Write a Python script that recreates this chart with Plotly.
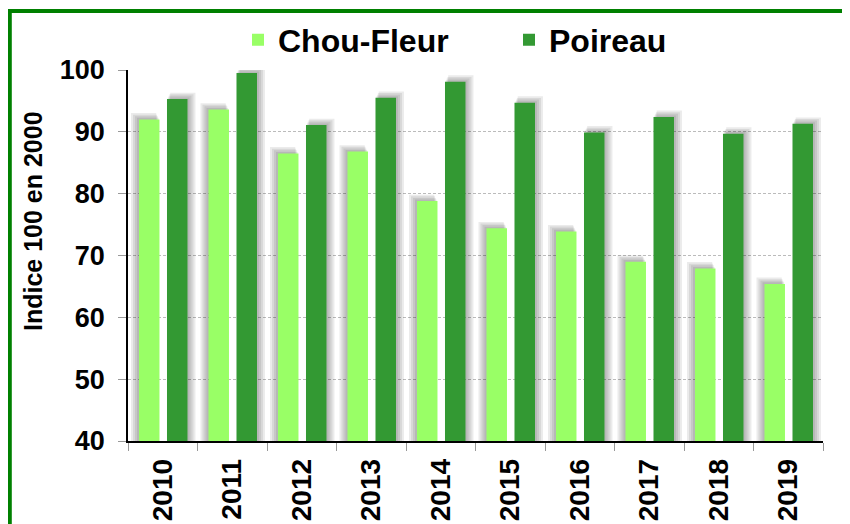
import plotly.graph_objects as go

years = ["2010", "2011", "2012", "2013", "2014", "2015", "2016", "2017", "2018", "2019"]
chou_fleur = [92.0, 93.6, 86.5, 86.8, 78.8, 74.4, 73.9, 69.0, 67.9, 65.4]
poireau = [95.3, 99.5, 91.1, 95.5, 98.1, 94.7, 89.9, 92.4, 89.7, 91.3]
y_ticks = [40, 50, 60, 70, 80, 90, 100]
y_title = "Indice 100 en 2000"

FONT = "Arial, 'Liberation Sans', sans-serif"
C_LIGHT = "#99FF66"
C_DARK = "#339933"
C_FRAME = "#008000"

W, H = 842, 516
ML, MT, PW, PH = 120, 62, 695, 371
PX_X = PW / 10.0   # pixels per category
PX_Y = PH / 60.0   # pixels per y unit
BW = 0.295
OFF_CHOU = -0.342
OFF_POIR = 0.061

fig = go.Figure()

# soft shadows (layered translucent bars)
for k in [8, 6, 4, 2]:
    dx = k / PX_X
    dy = (k * 0.8) / PX_Y
    fig.add_trace(go.Bar(
        x=years, y=[v + dy for v in chou_fleur], offset=OFF_CHOU - dx, width=BW + dx * 0.6,
        marker=dict(color="rgba(0,0,0,0.08)", line=dict(width=0)),
        showlegend=False, hoverinfo="skip"))
    fig.add_trace(go.Bar(
        x=years, y=[v + dy for v in poireau], offset=OFF_POIR + dx * 0.4, width=BW + dx * 0.6,
        marker=dict(color="rgba(0,0,0,0.08)", line=dict(width=0)),
        showlegend=False, hoverinfo="skip"))

fig.add_trace(go.Bar(x=years, y=chou_fleur, name="Chou-Fleur", offset=OFF_CHOU, width=BW,
                     marker=dict(color=C_LIGHT, line=dict(width=0))))
fig.add_trace(go.Bar(x=years, y=poireau, name="Poireau", offset=OFF_POIR, width=BW,
                     marker=dict(color=C_DARK, line=dict(width=0))))

# green frame: only the left and top sides fall inside the view
fx = (1.8 - ML) / PW
fy = (MT + PH - 3) / PH
fig.add_shape(type="line", xref="paper", yref="paper", x0=fx, x1=fx, y0=-0.5, y1=fy + 0.004,
              line=dict(color=C_FRAME, width=4), layer="above")
fig.add_shape(type="line", xref="paper", yref="paper", x0=fx - 0.003, x1=1.5, y0=fy, y1=fy,
              line=dict(color=C_FRAME, width=4), layer="above")

# y-axis title
fig.add_annotation(text=y_title, textangle=-90, xref="paper", yref="paper",
                   x=(25 - ML) / PW, y=(MT + PH - 213) / PH,
                   xanchor="center", yanchor="middle", showarrow=False,
                   font=dict(size=25, family=FONT, color="black", weight="bold"))

fig.update_layout(
    width=W, height=H,
    margin=dict(l=ML, r=W - ML - PW, t=MT, b=H - MT - PH, autoexpand=False),
    paper_bgcolor="white", plot_bgcolor="white",
    barmode="overlay",
    font=dict(family=FONT, color="black"),
    showlegend=True,
    legend=dict(orientation="h", x=(230 - ML) / PW, xanchor="left",
                y=(MT + PH - 32) / PH, yanchor="middle",
                font=dict(size=32, family=FONT, color="black", weight="bold"),
                entrywidth=226, entrywidthmode="pixels",
                bgcolor="rgba(0,0,0,0)", traceorder="normal"),
    xaxis=dict(type="category", categoryorder="array", categoryarray=years,
               showline=True, linecolor="black", linewidth=1.5,
               ticks="outside", tickson="boundaries", ticklen=8, tickcolor="#999999",
               tickangle=-90, tickfont=dict(size=28, family=FONT, weight="bold"),
               ticklabelstandoff=5, showgrid=False, fixedrange=True),
    yaxis=dict(range=[40, 100], tickvals=y_ticks, ticktext=[str(t) for t in y_ticks],
               showline=True, linecolor="black", linewidth=1.5,
               ticks="outside", ticklen=8, tickcolor="#999999",
               tickfont=dict(size=27, family=FONT, weight="bold"),
               ticklabelstandoff=8,
               showgrid=True, gridcolor="#bbbbbb", griddash="3px,2px", gridwidth=1,
               zeroline=False),
)

fig.write_html("out.html")
